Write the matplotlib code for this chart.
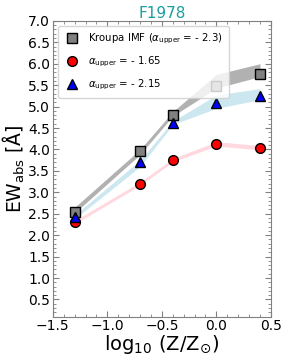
import numpy as np
import matplotlib.pyplot as plt
from matplotlib.ticker import AutoMinorLocator

# metallicity grid
log_z = [-1.3, -0.7, -0.4, 0.0, 0.4]

# Kroupa IMF (alpha_upper = -2.3)
ew_kroupa = [2.55, 3.97, 4.81, 5.47, 5.77]
kroupa_lo = [2.52, 3.88, 4.78, 5.43, 5.70]
kroupa_hi = [2.65, 4.00, 4.88, 5.75, 6.00]

# alpha_upper = -1.65
ew_165 = [2.30, 3.20, 3.75, 4.13, 4.03]
a165_lo = [2.26, 3.16, 3.71, 4.08, 3.99]
a165_hi = [2.34, 3.24, 3.79, 4.18, 4.09]

# alpha_upper = -2.15
ew_215 = [2.42, 3.70, 4.62, 5.08, 5.25]
a215_lo = [2.38, 3.60, 4.58, 4.96, 5.16]
a215_hi = [2.47, 3.75, 4.66, 5.27, 5.42]

fig = plt.figure(figsize=(2.87, 3.59), dpi=100)
ax = fig.add_axes([0.184, 0.118, 0.76, 0.824])

ax.fill_between(log_z, kroupa_lo, kroupa_hi, color='darkgray', alpha=0.9, lw=0)
ax.fill_between(log_z, a215_lo, a215_hi, color='lightblue', alpha=0.6, lw=0)
ax.fill_between(log_z, a165_lo, a165_hi, color='pink', alpha=0.6, lw=0)

ax.plot(log_z, ew_kroupa, 's', color='gray', mec='k', ms=7,
        label=r'Kroupa IMF ($\alpha_{\rm upper}$ = - 2.3)')
ax.plot(log_z, ew_165, 'o', color='red', mec='k', ms=7,
        label=r'$\alpha_{\rm upper}$ = - 1.65')
ax.plot(log_z, ew_215, '^', color='blue', mec='k', ms=7,
        label=r'$\alpha_{\rm upper}$ = - 2.15')

ax.set_xlim(-1.5, 0.5)
ax.set_ylim(0.1, 7.0)
ax.set_yticks(np.arange(0.5, 7.01, 0.5))
ax.set_xticks([-1.5, -1.0, -0.5, 0.0, 0.5])
ax.xaxis.set_minor_locator(AutoMinorLocator(5))
ax.yaxis.set_minor_locator(AutoMinorLocator(5))
ax.tick_params(which='both', direction='in', top=True, right=True,
               colors='gray', labelcolor='k', labelsize=10, pad=2)
ax.tick_params(which='major', length=4)
ax.tick_params(which='minor', length=2)
for s in ax.spines.values():
    s.set_color('gray')

ax.set_title('F1978', color='#1a9e9e', fontsize=11, pad=2)
ax.set_xlabel(r'log$_{10}$ (Z/Z$_{\odot}$)', fontsize=14, labelpad=0)
ax.set_ylabel(r'EW$_{\rm abs}$ [Å]', fontsize=13.5, labelpad=1)
ax.legend(loc='upper left', fontsize=7.3, handletextpad=0.8, borderpad=0.6,
          labelspacing=0.85, handlelength=1.6)

fig.savefig('out.png', dpi=100)
